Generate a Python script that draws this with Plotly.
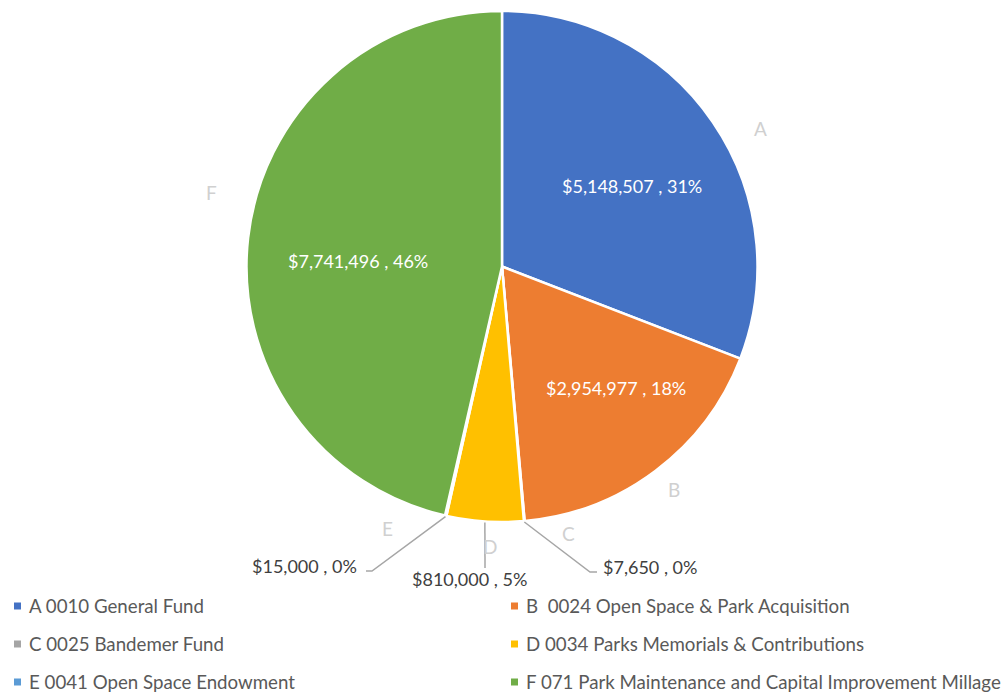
import numpy as np
import plotly.graph_objects as go

# Fund allocations
letters = ["A", "B", "C", "D", "E", "F"]
fund_names = [
    "A 0010 General Fund",
    "B  0024 Open Space & Park Acquisition",
    "C 0025 Bandemer Fund",
    "D 0034 Parks Memorials & Contributions",
    "E 0041 Open Space Endowment",
    "F 071 Park Maintenance and Capital Improvement Millage",
]
amounts = [5148507, 2954977, 7650, 810000, 15000, 7741496]
colors = ["#4472C4", "#ED7D31", "#A5A5A5", "#FFC000", "#5B9BD5", "#70AD47"]

W, H = 1005, 696
FONT = "Lato"

# pie geometry in pixels
CX, CY, R = 502, 266.5, 255.5
dom_x = [(CX - R) / W, (CX + R) / W]
dom_y = [1 - (CY + R) / H, 1 - (CY - R) / H]


def px(x, y):
    return x / W, 1 - y / H


total = sum(amounts)
fractions = [a / total for a in amounts]
cum = np.cumsum([0] + fractions[:-1])
mid_deg = [(c + f / 2) * 360 for c, f in zip(cum, fractions)]


def edge_point(deg, r):
    t = np.radians(deg)
    return CX + r * np.sin(t), CY - r * np.cos(t)


def value_text(a, f):
    return f"${a:,.0f} , {round(f * 100):.0f}%"


fig = go.Figure(
    go.Pie(
        labels=fund_names,
        values=amounts,
        marker=dict(colors=colors, line=dict(color="white", width=2.5)),
        sort=False,
        direction="clockwise",
        rotation=0,
        textinfo="none",
        hoverinfo="label+value+percent",
        domain=dict(x=dom_x, y=dom_y),
        showlegend=False,
    )
)

annotations = []
shapes = []

# value labels: inside for large slices, outside with leader lines for small ones
label_pos = {
    "A": (632, 186, "center"),
    "B": (615.5, 388, "center"),
    "F": (358, 261, "center"),
    "C": (601, 567, "left"),
    "D": (469, 579, "center"),
    "E": (359, 566, "right"),
}
leader_bends = {
    "C": [(590, 572), (597, 572)],
    "D": [(485, 568)],
    "E": [(372, 571), (366, 571)],
}
for i, k in enumerate(letters):
    x, y, al = label_pos[k]
    inside = k in ("A", "B", "F")
    ax, ay = px(x, y)
    annotations.append(dict(
        x=ax, y=ay, xref="paper", yref="paper", showarrow=False,
        text=value_text(amounts[i], fractions[i]),
        xanchor=al, yanchor="middle",
        font=dict(family=FONT, size=18, color="white" if inside else "#404040"),
    ))
    if k in leader_bends:
        sx, sy = edge_point(mid_deg[i], R + 1)
        pts = [(sx, sy)] + leader_bends[k]
        path = "M " + " L ".join(f"{px(a, b)[0]},{px(a, b)[1]}" for a, b in pts)
        shapes.append(dict(type="path", xref="paper", yref="paper", path=path,
                           line=dict(color="#A6A6A6", width=1.5)))

# category letters around the pie
letter_pos = {"A": (760, 129), "B": (674, 489), "C": (568, 533),
              "D": (490, 546), "E": (387, 528), "F": (211, 192)}
for k in letters:
    ax, ay = px(*letter_pos[k])
    annotations.append(dict(
        x=ax, y=ay, xref="paper", yref="paper", showarrow=False, text=k,
        xanchor="center", yanchor="middle",
        font=dict(family=FONT, size=19, color="#D0D0D0"),
    ))

# legend in two columns
col_x = [14, 511]
row_y = [606, 644, 682]
for i, name in enumerate(fund_names):
    mx, my = col_x[i % 2], row_y[i // 2]
    x0, y0 = px(mx, my - 3.5)
    x1, y1 = px(mx + 7, my + 3.5)
    shapes.append(dict(type="rect", xref="paper", yref="paper",
                       x0=x0, y0=y1, x1=x1, y1=y0,
                       fillcolor=colors[i], line=dict(width=0)))
    tx, ty = px(mx + 13, my)
    annotations.append(dict(
        x=tx, y=ty, xref="paper", yref="paper", showarrow=False,
        text=name.replace("  ", "&nbsp; "), xanchor="left", yanchor="middle",
        font=dict(family=FONT, size=18.7, color="#595959"),
    ))

fig.update_layout(
    width=W, height=H,
    margin=dict(l=0, r=0, t=0, b=0),
    paper_bgcolor="white",
    plot_bgcolor="white",
    annotations=annotations,
    shapes=shapes,
)

fig.write_html("out.html")
